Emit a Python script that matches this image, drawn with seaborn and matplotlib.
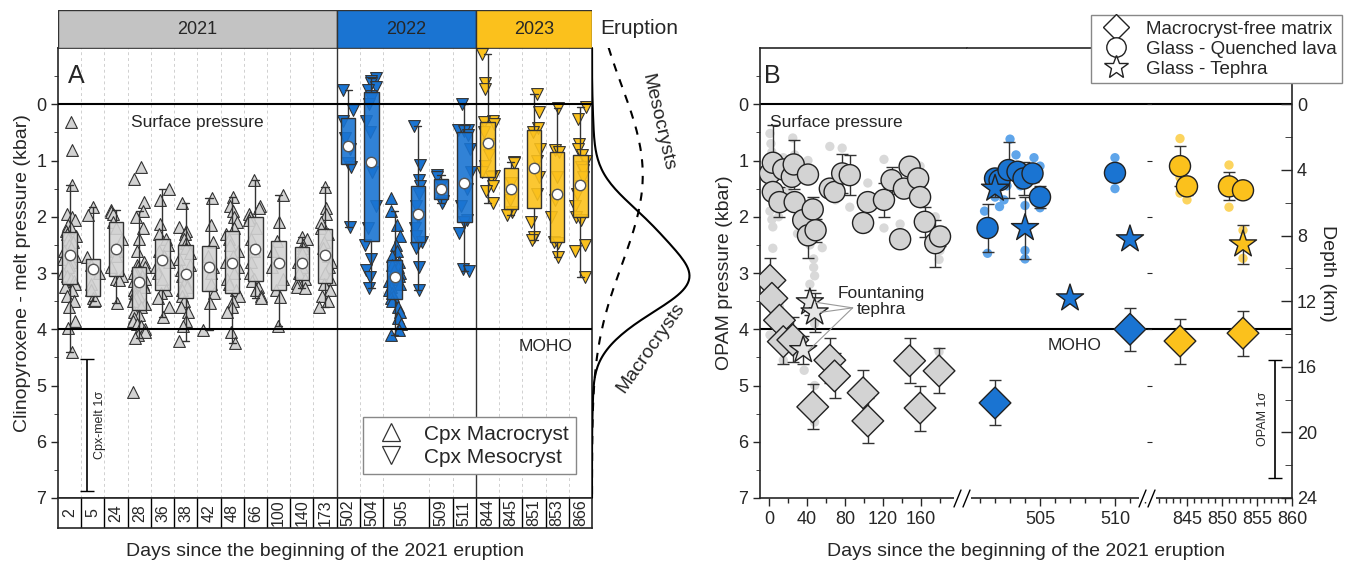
import numpy as np
import pandas as pd
import matplotlib.pyplot as plt
import seaborn as sns
from matplotlib.lines import Line2D
from matplotlib.patches import Rectangle
from matplotlib.ticker import FixedLocator

sns.set_style("ticks")
plt.rcParams['font.family'] = ['Liberation Sans', 'DejaVu Sans']

GREY = "#d3d3d3"
BLUE = "#1a74d2"
YELLOW = "#fbc11c"
pal = {"2021": GREY, "2022": BLUE, "2023": YELLOW}
dot_pal = {"2021": "#d9d9d9", "2022": "#5fa5ea", "2023": "#fcd45e"}
hdr_pal = {"2021": "#c3c3c3", "2022": BLUE, "2023": YELLOW}

# ---------------- Panel A: Cpx-melt pressures (kbar) per sample ----------------
p2 = [0.31, 0.82, 1.44, 1.95, 2.0, 2.05, 2.15, 2.2, 2.25, 2.3, 2.35, 2.4, 2.45, 2.5, 2.55, 2.6, 2.7,
      2.75, 2.8, 2.85, 2.9, 3.0, 3.05, 3.1, 3.15, 3.2, 3.25, 3.3, 3.4, 3.5, 3.6, 3.85, 3.98, 4.4]
p5 = [1.83, 1.97, 2.72, 2.85, 3.0, 3.2, 3.3, 3.45, 3.5, 3.48]
p24 = [1.88, 1.92, 1.95, 2.1, 2.2, 2.4, 2.6, 2.7, 2.9, 3.05, 3.1, 3.12, 3.54]
p28 = [1.12, 1.33, 1.73, 1.9, 2.0, 2.2, 2.4, 2.6, 2.8, 2.85, 2.9, 2.9, 2.95, 3.0, 3.0, 3.05, 3.1,
       3.1, 3.15, 3.15, 3.2, 3.2, 3.25, 3.3, 3.3, 3.35, 3.4, 3.4, 3.45, 3.5, 3.55, 3.6, 3.7, 3.75,
       3.8, 3.85, 3.9, 3.95, 4.0, 4.05, 4.1, 4.15, 5.12]
p36 = [1.5, 1.7, 2.12, 2.3, 2.4, 2.5, 2.6, 2.7, 2.8, 2.9, 3.0, 3.1, 3.3, 3.35, 3.45, 3.6, 3.78]
p38 = [1.76, 2.18, 2.25, 2.3, 2.4, 2.47, 2.55, 2.65, 2.75, 2.85, 2.95, 3.05, 3.15, 3.2, 3.25, 3.3,
       3.4, 3.5, 3.6, 3.7, 3.85, 3.95, 4.2]
p42 = [1.67, 2.15, 2.45, 2.7, 2.9, 3.0, 3.2, 3.35, 3.53, 4.02]
p48 = [1.65, 1.8, 1.9, 2.0, 2.1, 2.2, 2.3, 2.4, 2.5, 2.6, 2.7, 2.8, 2.9, 3.0, 3.1, 3.2, 3.3, 3.4,
       3.5, 3.6, 3.7, 4.05, 4.25]
p66 = [1.34, 1.8, 1.85, 1.95, 2.0, 2.05, 2.2, 2.4, 2.6, 2.8, 3.0, 3.1, 3.15, 3.25, 3.3, 3.4, 3.45]
p100 = [1.62, 2.09, 2.43, 2.6, 2.9, 3.1, 3.3, 3.42, 3.95]
p140 = [2.36, 2.4, 2.5, 2.55, 2.65, 2.8, 2.9, 3.0, 3.1, 3.18, 3.25, 3.27]
p173 = [1.47, 1.85, 1.95, 2.1, 2.2, 2.3, 2.45, 2.55, 2.7, 2.8, 2.9, 3.0, 3.1, 3.2, 3.3, 3.4, 3.5, 3.6]
p502 = [-0.25, 0.1, 0.3, 0.6, 0.8, 1.05, 1.12, 2.18]
p504 = [-0.46, -0.42, -0.38, -0.3, -0.25, -0.15, -0.1, 0.0, 0.3, 0.5, 1.2, 1.8, 2.2, 2.5, 2.75,
        2.95, 3.07, 3.27]
p505_macro = [1.67, 1.9, 2.15, 2.35, 2.5, 2.6, 2.7, 2.8, 2.85, 2.9, 2.95, 3.0, 3.05, 3.1, 3.15, 3.2,
              3.25, 3.3, 3.35, 3.4, 3.45, 3.5, 3.6, 3.7, 3.8, 3.9, 4.02, 4.1]
p505_meso = [0.39, 1.08, 1.35, 1.45, 1.6, 1.8, 2.0, 2.2, 2.35, 2.45, 2.56, 2.9, 3.3]
p509 = [1.25, 1.3, 1.45, 1.6, 1.72, 1.76]
p511 = [0.0, 0.45, 0.46, 0.48, 0.55, 0.8, 1.2, 1.5, 1.8, 2.06, 2.1, 2.29, 2.93, 2.97]
p844 = [-0.9, -0.37, -0.28, 0.3, 0.32, 0.35, 0.5, 0.7, 0.9, 1.1, 1.2, 1.28, 1.3, 1.45, 1.55, 1.76]
p845 = [1.02, 1.05, 1.4, 1.7, 1.92, 1.97]
p851 = [-0.19, 0.14, 0.43, 0.5, 0.8, 1.0, 1.3, 1.6, 2.09, 2.36, 2.42]
p853 = [0.07, 0.82, 0.85, 1.3, 1.7, 2.0, 2.45, 2.47, 2.72]
p866 = [0.05, 0.27, 0.7, 0.8, 0.9, 1.0, 1.12, 1.17, 1.3, 1.45, 1.6, 1.8, 2.0, 2.06, 2.5, 2.6, 3.07]

col_labels = ["2", "5", "24", "28", "36", "38", "42", "48", "66", "100", "140", "173",
              "502", "504", "505", "505", "509", "511", "844", "845", "851", "853", "866"]
col_years = ["2021"] * 12 + ["2022"] * 6 + ["2023"] * 5
col_kinds = ["macro"] * 12 + ["meso", "meso", "macro"] + ["meso"] * 8
col_values = [p2, p5, p24, p28, p36, p38, p42, p48, p66, p100, p140, p173,
              p502, p504, p505_macro, p505_meso, p509, p511, p844, p845, p851, p853, p866]

# ---------------- Panel B: OPAM pressures ----------------
mf_day = [1, 3, 11, 15, 25, 46, 64, 69, 99, 104, 148, 159, 179, 502, 511, 844, 853]
mf_p = [3.13, 3.45, 3.84, 4.22, 4.19, 5.38, 4.55, 4.83, 5.13, 5.63, 4.56, 5.40, 4.74, 5.31, 4.0, 4.21, 4.07]
mf_err = [0.39, 0.35, 0.4, 0.4, 0.4, 0.4, 0.4, 0.4, 0.4, 0.4, 0.4, 0.4, 0.4, 0.4, 0.38, 0.4, 0.4]
mf_year = ["2021"] * 13 + ["2022"] * 2 + ["2023"] * 2

ql_day = [1, 4, 4, 11, 15, 24, 26, 27, 36, 41, 41, 46, 49, 64, 69, 77, 85, 99, 104, 121, 129, 138,
          142, 148, 157, 159, 164, 175, 180,
          501.5, 502, 502.3, 502.9, 503.5, 503.9, 504.5, 505, 510,
          844, 845, 851, 853]
ql_p = [1.23, 1.04, 1.56, 1.74, 1.16, 1.29, 1.07, 1.74, 2.06, 1.25, 2.33, 1.87, 2.24, 1.5, 1.56, 1.23,
        1.26, 2.11, 1.74, 1.7, 1.35, 2.4, 1.5, 1.11, 1.32, 1.65, 2.09, 2.47, 2.35,
        2.2, 1.32, 1.35, 1.17, 1.2, 1.32, 1.23, 1.65, 1.22,
        1.1, 1.46, 1.46, 1.53]
ql_err = [0.0, 0.67, 0.0, 0.27, 0.0, 0.0, 0.43, 0.0, 0.0, 0.0, 0.4, 0.22, 0.2, 0.0, 0.1, 0.35, 0.36,
          0.15, 0.0, 0.3, 0.24, 0.0, 0.0, 0.0, 0.0, 0.0, 0.27, 0.42, 0.17,
          0.42, 0.15, 0.0, 0.5, 0.0, 0.3, 0.15, 0.2, 0.15,
          0.36, 0.15, 0.25, 0.0]
ql_year = ["2021"] * 29 + ["2022"] * 9 + ["2023"] * 4

tp_day = [43, 48, 36, 502, 504, 507, 511, 853]
tp_p = [3.52, 3.70, 4.37, 1.5, 2.2, 3.45, 2.4, 2.49]
tp_err = [0.22, 0.35, 0.25, 0.15, 0.55, 0.0, 0.0, 0.35]
tp_year = ["2021"] * 3 + ["2022"] * 4 + ["2023"]

dot_day = [1, 2, 3, 1, 3, 4, 4, 15, 25, 27, 34, 41, 43, 47, 47, 48, 77, 70, 85, 104, 121, 121, 138,
           159, 175, 180, 179, 11, 1, 15, 26, 37, 43, 48, 48, 48, 179, 10, 20, 30, 56, 64,
           501.3, 501.5, 502.6, 502.3, 503, 502.8, 503.4, 503.7, 504, 504, 504, 504.6, 505, 505,
           510, 510, 502,
           844, 844, 844, 845, 851, 851, 853, 853, 845]
dot_p = [0.52, 0.7, 0.85, 1.9, 2.05, 2.18, 2.56, 0.95, 0.6, 0.9, 1.3, 1.0, 2.5, 2.75, 2.9, 3.05, 0.78,
         1.7, 1.83, 1.4, 0.98, 2.2, 2.13, 1.1, 2.0, 2.6, 2.76, 3.6, 4.1, 4.55, 4.4, 4.73, 3.2, 3.9, 5.0,
         5.65, 4.4, 2.0, 1.55, 2.3, 2.55, 0.75,
         1.9, 2.65, 1.7, 1.82, 0.62, 1.45, 0.9, 1.45, 1.8, 2.6, 2.75, 0.95, 1.1, 1.84, 0.95, 1.5, 1.65,
         0.61, 1.3, 1.58, 1.7, 1.08, 1.83, 2.24, 2.74, 1.6]
dot_year = ["2021"] * 42 + ["2022"] * 17 + ["2023"] * 9

# ------------------------------------------------------------------------
W, H = 1355, 566
fig = plt.figure(figsize=(W / 100, H / 100), dpi=100)


def fax(l, t, r, b):
    return fig.add_axes([l / W, 1 - b / H, (r - l) / W, (b - t) / H])


def ftext(px, py, s, **kw):
    return fig.text(px / W, 1 - py / H, s, **kw)


def fline(xs, ys, **kw):
    fig.add_artist(Line2D([x / W for x in xs], [1 - y / H for y in ys], transform=fig.transFigure, **kw))


rows = []
for i, (lab, yr, kind, vals) in enumerate(zip(col_labels, col_years, col_kinds, col_values)):
    for v in vals:
        rows.append({"pos": i + 0.5, "label": lab, "year": yr, "kind": kind, "P": v})
cpx = pd.DataFrame(rows)
ncol = len(col_labels)

axA = fax(58, 48, 592, 498)
for (yr, kind), sub in cpx.groupby(["year", "kind"]):
    sns.stripplot(data=sub, x="pos", y="P", native_scale=True, ax=axA,
                  marker="^" if kind == "macro" else "v", color=pal[yr], edgecolor="#333333",
                  linewidth=0.8, size=8.5, jitter=0.28, zorder=2)
for (yr, kind), sub in cpx.groupby(["year", "kind"]):
    sns.boxplot(data=sub, x="pos", y="P", native_scale=True, ax=axA, width=0.62,
                color=pal[yr], linecolor="#333333", linewidth=1, showfliers=False,
                showmeans=True, saturation=1,
                meanprops=dict(marker="o", markerfacecolor="white", markeredgecolor="#555555",
                               markersize=7.5),
                medianprops=dict(linewidth=0), zorder=3)
for p in axA.patches:
    fc = p.get_facecolor()
    p.set_facecolor((fc[0], fc[1], fc[2], 0.9))

axA.set_xlim(0, ncol)
axA.set_ylim(7, -1)
axA.set_xlabel("")
axA.set_ylabel("Clinopyroxene - melt pressure (kbar)", fontsize=14)
axA.set_xticks([])
axA.yaxis.set_major_locator(FixedLocator(range(0, 8)))
axA.yaxis.set_minor_locator(FixedLocator(np.arange(-0.5, 7, 0.5)))
axA.tick_params(axis="y", labelsize=13, length=5, width=1)
axA.tick_params(axis="y", which="minor", length=3)
year_edges = [12, 18]
for b in range(1, ncol):
    if b in year_edges:
        axA.axvline(b, color="#333333", lw=1, zorder=1)
    elif b != 15:
        axA.axvline(b, color="#d0d0d0", lw=0.7, ls=(0, (3, 3)), zorder=0)
axA.axhline(0, color="k", lw=1.5, zorder=4)
axA.axhline(4, color="k", lw=1.5, zorder=4)
for s in axA.spines.values():
    s.set_linewidth(1.2)
axA.text(0.45, -0.5, "A", fontsize=18, va="center")
axA.text(6, 0.33, "Surface pressure", fontsize=12.5, ha="center", va="center")
axA.text(21, 4.3, "MOHO", fontsize=12.5, ha="center", va="center")
axA.errorbar([1.25], [5.7], yerr=[1.17], fmt="none", ecolor="k", elinewidth=1.2, capsize=5)
axA.text(1.8, 5.7, "Cpx-melt 1σ", rotation=90, fontsize=9, ha="center", va="center")
legA = [Line2D([], [], marker="^", ls="none", mfc="white", mec="#333333", ms=13, mew=0.9),
        Line2D([], [], marker="v", ls="none", mfc="white", mec="#333333", ms=13, mew=0.9)]
axA.legend(legA, ["Cpx Macrocryst", "Cpx Mesocryst"], loc="lower right",
           bbox_to_anchor=(576 / W, 1 - 474 / H), bbox_transform=fig.transFigure,
           fontsize=15, frameon=True, fancybox=False, framealpha=1, edgecolor="#888888",
           borderaxespad=0, handletextpad=0.6, labelspacing=0.2, borderpad=0.35)

# header bars
axH = fax(58, 10, 592, 48)
yrs = cpx.groupby("year")["pos"].agg(["min", "max"])
for yr, r in yrs.iterrows():
    lo, hi = r["min"] - 0.5, r["max"] + 0.5
    axH.bar((lo + hi) / 2, 1, width=hi - lo, color=hdr_pal[yr], edgecolor="#333333", lw=1)
    axH.text((lo + hi) / 2, 0.5, yr, ha="center", va="center", fontsize=13)
axH.set_xlim(0, ncol)
axH.set_ylim(0, 1)
axH.axis("off")
ftext(600, 28, "Eruption", fontsize=15, va="center")

# sample strip
axS = fax(58, 498, 592, 528)
axS.set_xlim(0, ncol)
axS.set_ylim(0, 1)
axS.set_xticks([])
axS.set_yticks([])
for b in range(1, ncol):
    if b != 15:
        axS.axvline(b, color="k", lw=1)
strip = cpx.groupby("label")["pos"].mean()
for lab, pos in strip.items():
    axS.text(pos, 0.5, lab, rotation=90, ha="center", va="center", fontsize=11.5)
for s in axS.spines.values():
    s.set_linewidth(1.2)
ftext(325, 551, "Days since the beginning of the 2021 eruption", fontsize=14, ha="center", va="center")

# density curves
axD = fax(592, 48, 700, 498)
sns.kdeplot(y=cpx.loc[cpx["kind"] == "macro", "P"], ax=axD, color="k", lw=1.5, bw_adjust=1.7, cut=5)
sns.kdeplot(y=cpx.loc[cpx["kind"] == "meso", "P"], ax=axD, color="k", lw=1.5, ls=(0, (4, 4)),
            bw_adjust=3.0, cut=5)
axD.set_ylim(7, -1)
axD.set_xlim(0, 0.56)
axD.axis("off")
ftext(658, 122, "Mesocrysts", rotation=-77, fontsize=14, ha="center", va="center")
ftext(651, 348, "Macrocrysts", rotation=55, fontsize=14, ha="center", va="center")

# ---------------- Panel B axes (broken x axis) ----------------
s1 = fax(760, 48, 967, 498)
s2 = fax(967, 48, 1152, 498)
s3 = fax(1152, 48, 1292, 498)
segs = [s1, s2, s3]
s1.set_xlim(-9.5, 208.4)
s2.set_xlim(500.13, 512.47)
s3.set_xlim(840.0, 860.0)

for ax in segs:
    sns.scatterplot(x=dot_day, y=dot_p, hue=dot_year, palette=dot_pal, s=45, linewidth=0,
                    ax=ax, legend=False, zorder=2)
    ax.errorbar(mf_day, mf_p, yerr=mf_err, fmt="none", ecolor="#333333", elinewidth=1, capsize=4, zorder=3)
    ax.errorbar(ql_day, ql_p, yerr=ql_err, fmt="none", ecolor="#333333", elinewidth=1, capsize=4, zorder=3)
    ax.errorbar(tp_day, tp_p, yerr=tp_err, fmt="none", ecolor="#333333", elinewidth=1, capsize=4, zorder=3)
    sns.scatterplot(x=mf_day, y=mf_p, hue=mf_year, palette=pal, marker="D", s=260, edgecolor="#222222",
                    linewidth=1, ax=ax, legend=False, zorder=4)
    sns.scatterplot(x=ql_day, y=ql_p, hue=ql_year, palette=pal, marker="o", s=230, edgecolor="#222222",
                    linewidth=1, ax=ax, legend=False, zorder=4)
    sns.scatterplot(x=tp_day, y=tp_p, hue=tp_year, palette={"2021": "#e6e6e6", "2022": BLUE, "2023": YELLOW},
                    marker="*", s=420, edgecolor="#222222", linewidth=1, ax=ax, legend=False, zorder=5)
    ax.set_ylim(7, -1)
    ax.axhline(0, color="k", lw=1.5, zorder=1)
    ax.axhline(4, color="k", lw=1.5, zorder=1)
    ax.set_xlabel("")
    ax.set_ylabel("")
    for s in ax.spines.values():
        s.set_linewidth(1.2)
    ax.tick_params(axis="x", labelsize=13, length=6, width=1)
    ax.tick_params(axis="x", which="minor", length=3.5, width=1)

s1.spines["right"].set_visible(False)
s2.spines["left"].set_visible(False)
s2.spines["right"].set_visible(False)
s3.spines["left"].set_visible(False)
s3.spines["right"].set_visible(False)
s2.tick_params(axis="y", left=False, labelleft=False)
s3.tick_params(axis="y", left=False, labelleft=False)

s1.xaxis.set_major_locator(FixedLocator([0, 40, 80, 120, 160]))
s1.xaxis.set_minor_locator(FixedLocator(range(0, 200, 20)))
s2.xaxis.set_major_locator(FixedLocator([505, 510]))
s2.xaxis.set_minor_locator(FixedLocator(range(501, 513)))
s3.xaxis.set_major_locator(FixedLocator([845, 850, 855, 860]))
s3.xaxis.set_minor_locator(FixedLocator(range(841, 861)))

s1.yaxis.set_major_locator(FixedLocator(range(0, 8)))
s1.yaxis.set_minor_locator(FixedLocator(np.arange(-0.5, 7, 0.5)))
s1.tick_params(axis="y", labelsize=13, length=5, width=1)
s1.tick_params(axis="y", which="minor", length=3)
s1.set_ylabel("OPAM pressure (kbar)", fontsize=14, labelpad=4)

s3r = s3.twinx()
s3r.set_ylim(24, -24 / 7)
s3r.yaxis.set_major_locator(FixedLocator(range(0, 25, 4)))
s3r.yaxis.set_minor_locator(FixedLocator(range(2, 24, 4)))
s3r.tick_params(axis="y", direction="in", labelsize=13, length=8, width=1)
s3r.tick_params(axis="y", which="minor", direction="in", length=5)
for k in ["left", "top", "bottom"]:
    s3r.spines[k].set_visible(False)
s3r.spines["right"].set_linewidth(1.2)
s3r.set_ylabel("Depth (km)", fontsize=14, rotation=270, labelpad=14)

s1.text(-5, -0.5, "B", fontsize=18, va="center")
s1.text(1, 0.33, "Surface pressure", fontsize=12.5, va="center")
ftext(1075, 345, "MOHO", fontsize=12.5, ha="center", va="center")
s1.text(118, 3.5, "Fountaning\ntephra", fontsize=12.5, ha="center", va="center", linespacing=1.1)
for (d, p) in zip(tp_day[:3], tp_p[:3]):
    s1.plot([d + 6, 88], [p, 3.62], color="#999999", lw=0.8, zorder=6)
s3.errorbar([857.5], [5.6], yerr=[1.05], fmt="none", ecolor="k", elinewidth=1.2, capsize=5)
s3.text(855.8, 5.6, "OPAM 1σ", rotation=90, fontsize=9, ha="center", va="center")
ftext(1026, 551, "Days since the beginning of the 2021 eruption", fontsize=14, ha="center", va="center")

# axis break marks
for bx in [962, 1147]:
    fig.add_artist(Rectangle(((bx - 8) / W, 1 - 502 / H), 17 / W, 8 / H, transform=fig.transFigure,
                             facecolor="white", edgecolor="none", zorder=5))
    fline([bx - 8, bx - 1], [507, 490], color="k", lw=1, zorder=6)
    fline([bx + 1, bx + 8], [507, 490], color="k", lw=1, zorder=6)

legB = [Line2D([], [], marker="D", ls="none", mfc="white", mec="#222222", ms=13, mew=1),
        Line2D([], [], marker="o", ls="none", mfc="white", mec="#222222", ms=14, mew=1),
        Line2D([], [], marker="*", ls="none", mfc="white", mec="#222222", ms=18, mew=1)]
lg = fig.legend(legB, ["Macrocryst-free matrix", "Glass - Quenched lava", "Glass - Tephra"],
                loc="upper right", bbox_to_anchor=(1342 / W, 1 - 15 / H), fontsize=13.5, frameon=True,
                fancybox=False, framealpha=1, edgecolor="#888888", borderaxespad=0,
                handletextpad=0.6, labelspacing=0.15, borderpad=0.3)
lg.set_zorder(10)

fig.savefig("out.png", dpi=100)
